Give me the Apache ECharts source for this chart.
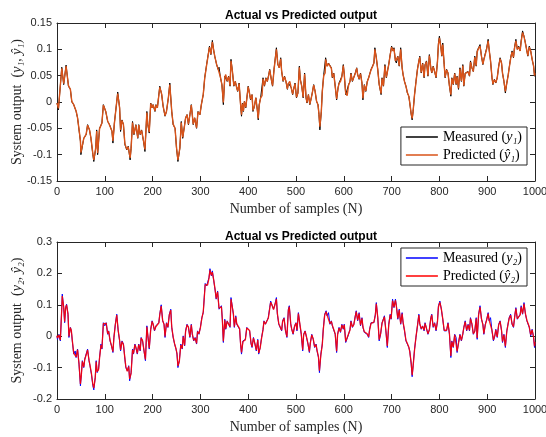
<!DOCTYPE html>
<html>
<head>
<meta charset="utf-8">
<script src="https://cdn.jsdelivr.net/npm/echarts@6/dist/echarts.min.js"></script>
<style>html,body{margin:0;padding:0;background:#fff}#c{width:546px;height:437px}</style>
</head>
<body>
<div id="c"></div>
<script>
// ---------- Top plot: y1 ----------
const samples1 = [0,3,10,14,19,24,28,31,35,40,43,49,50,56,61,64,68,71,75,77,81,83,85,89,94,97,99,102,106,110,115,117,120,125,127,131,133,136,139,142,146,149,153,155,158,161,165,169,171,174,177,181,184,188,190,193,196,199,201,205,207,210,215,219,222,226,229,233,236,240,243,247,250,253,257,260,263,265,269,272,275,278,281,285,288,292,295,299,302,306,309,313,316,319,322,325,328,
330,334,337,339,342,345,348,351,353,356,359,362,364,367,370,373,376,378,381,384,386,388,390,392,395,398,400,402,405,408,410,413,416,419,421,423,426,429,431,434,437,440,443,445,449,451,454,456,459,462,465,468,470,473,476,479,482,484,487,490,493,495,498,501,504,507,509,512,515,518,521,523,526,529,532,534,537,540,543,546,548,550,553,555,558,561,562,565,568,571,574,576,579,582,585,588,590,593,596,599,601,604,607,610,613,615,618,621,624,627,629,632,635,638,640,643,646,649,652,654,657,660,663,665,668,671,674,
676,678,680,683,686,689,692,694,697,700,703,705,708,710,713,716,719,722,724,727,730,733,736,738,741,743,745,748,751,754,757,759,762,765,768,770,773,776,779,782,784,787,790,793,796,798,800,803,805,807,810,812,815,818,821,824,826,829,832,835,837,840,843,846,849,851,854,857,860,863,865,868,871,874,877,879,882,885,888,891,893,896,899,902,904,907,910,912,915,918,921,924,927,930,932,935,938,941,944,946,949,952,955,957,960,963,966,969,971,974,977,980,983,985,988,991,994,997,999,1000];

const measured1 = [-0.002,-0.015,0.066,0.033,0.070,0.030,0.024,0,-0.005,-0.018,-0.030,-0.075,-0.100,-0.069,-0.062,-0.043,-0.053,-0.069,-0.100,-0.113,-0.088,-0.053,-0.100,-0.050,-0.040,-0.005,-0.004,-0.018,-0.037,-0.043,-0.056,-0.078,-0.040,0.001,0.019,-0.011,-0.056,-0.034,-0.043,-0.081,-0.091,-0.084,-0.110,-0.088,-0.037,-0.062,-0.043,-0.069,-0.043,-0.062,-0.053,-0.075,-0.094,-0.018,-0.043,-0.059,-0.002,-0.011,-0.005,-0.018,-0.005,-0.011,0.030,0.014,-0.008,-0.027,-0.018,0.008,0.036,-0.018,-0.043,-0.050,-0.088,-0.113,-0.088,-0.037,-0.069,-0.056,-0.030,-0.024,-0.043,-0.024,-0.005,-0.043,-0.030,-0.050,-0.018,-0.024,-0.005,0.014,0.046,0.071,0.068,0.106,0.090,0.117,0.097,
0.087,0.071,0.062,0.066,0.046,0.033,-0.005,0.049,0.052,0.039,0.049,0.030,0.081,0.058,0.030,0.039,0.027,0.020,0.036,-0.005,-0.027,-0.002,-0.018,0.001,-0.011,0.014,0.030,0.020,0.004,0.014,-0.018,-0.008,0.008,-0.015,-0.034,-0.005,0.008,0.011,0.046,0.030,0.046,0.039,0.052,0.062,0.039,0.030,0.062,0.078,0.103,0.071,0.065,0.084,0.058,0.039,0.049,0.039,0.024,0.036,0.039,0.027,0.014,0.024,0.036,0.008,0.017,0.068,0.043,0.030,0.008,0.055,0.008,-0.002,0.014,-0.005,0.008,0.017,0.033,0.020,0.001,-0.005,-0.024,-0.053,-0.018,0.020,0.052,0.055,0.084,0.068,0.074,0.071,0.065,0.046,0.055,0.030,0.004,0.027,0.036,0.039,0.049,0.071,0.052,0.014,0.011,0.033,0.039,0.055,0.039,0.039,0.055,0.065,0.052,0.043,0.055,0.036,0.004,0.033,0.020,0.039,0.046,0.049,0.062,0.068,0.074,0.103,0.084,0.062,0.033,
0.033,0.014,0.046,0.030,0.071,0.046,0.062,0.071,0.090,0.106,0.097,0.103,0.078,0.074,0.087,0.068,0.103,0.065,0.052,0.039,0.030,0.017,0.011,-0.002,-0.024,-0.034,-0.018,0.014,0.039,0.062,0.078,0.087,0.055,0.074,0.046,0.071,0.078,0.049,0.090,0.065,0.055,0.068,0.058,0.046,0.078,0.112,0.125,0.106,0.087,0.112,0.071,0.046,0.062,0.055,0.030,0.011,0.046,0.033,0.055,0.033,0.049,0.024,0.065,0.039,0.071,0.030,0.055,0.052,0.058,0.049,0.078,0.065,0.058,0.087,0.068,0.097,0.103,0.109,0.087,0.071,0.081,0.078,0.103,0.119,0.100,0.078,0.046,0.033,0.043,0.036,0.046,0.068,0.084,0.074,0.055,0.039,0.017,0.036,0.052,0.065,0.084,0.097,0.084,0.103,0.119,0.100,0.106,0.097,0.116,0.135,0.125,0.112,0.097,0.087,0.106,0.097,0.081,0.068,0.049,0.055];

const predicted1 = [-0.002,-0.012,0.064,0.035,0.068,0.031,0.024,0.001,-0.005,-0.017,-0.030,-0.073,-0.096,-0.069,-0.061,-0.044,-0.053,-0.068,-0.098,-0.110,-0.087,-0.055,-0.097,-0.051,-0.040,-0.006,-0.004,-0.018,-0.036,-0.044,-0.055,-0.074,-0.041,0.001,0.016,-0.011,-0.053,-0.035,-0.043,-0.079,-0.090,-0.085,-0.106,-0.088,-0.039,-0.061,-0.044,-0.068,-0.044,-0.061,-0.054,-0.074,-0.090,-0.020,-0.042,-0.057,-0.003,-0.011,-0.005,-0.017,-0.006,-0.011,0.028,0.015,-0.008,-0.026,-0.018,0.008,0.033,-0.017,-0.042,-0.050,-0.086,-0.110,-0.087,-0.039,-0.067,-0.056,-0.031,-0.024,-0.042,-0.025,-0.006,-0.042,-0.030,-0.049,-0.019,-0.024,-0.005,0.015,0.045,0.070,0.068,0.104,0.091,0.114,0.097,
0.087,0.071,0.063,0.065,0.047,0.033,-0.001,0.047,0.052,0.040,0.048,0.031,0.078,0.058,0.031,0.039,0.027,0.021,0.035,-0.004,-0.024,-0.003,-0.017,0.001,-0.010,0.014,0.029,0.020,0.005,0.014,-0.016,-0.008,0.008,-0.014,-0.031,-0.006,0.008,0.012,0.044,0.031,0.045,0.039,0.051,0.061,0.040,0.031,0.060,0.077,0.100,0.072,0.065,0.082,0.058,0.040,0.048,0.039,0.025,0.035,0.039,0.027,0.015,0.024,0.035,0.009,0.017,0.066,0.043,0.030,0.009,0.053,0.009,-0.001,0.014,-0.004,0.008,0.017,0.032,0.020,0.002,-0.005,-0.022,-0.047,-0.017,0.020,0.050,0.055,0.081,0.068,0.073,0.071,0.064,0.047,0.054,0.030,0.006,0.027,0.035,0.039,0.048,0.069,0.052,0.017,0.012,0.032,0.039,0.054,0.040,0.039,0.054,0.064,0.052,0.044,0.054,0.036,0.007,0.032,0.021,0.038,0.046,0.049,0.061,0.067,0.074,0.100,0.084,0.062,0.034,
0.033,0.016,0.045,0.031,0.069,0.047,0.061,0.071,0.089,0.104,0.097,0.101,0.078,0.075,0.086,0.069,0.100,0.065,0.052,0.039,0.030,0.018,0.011,-0.001,-0.022,-0.031,-0.017,0.014,0.038,0.061,0.077,0.085,0.056,0.073,0.047,0.070,0.077,0.050,0.088,0.065,0.056,0.067,0.058,0.047,0.077,0.109,0.122,0.105,0.088,0.109,0.071,0.047,0.061,0.055,0.031,0.014,0.045,0.034,0.054,0.034,0.048,0.026,0.063,0.040,0.069,0.031,0.054,0.052,0.057,0.050,0.076,0.065,0.058,0.085,0.069,0.095,0.102,0.106,0.087,0.072,0.080,0.078,0.101,0.116,0.100,0.078,0.047,0.034,0.042,0.037,0.046,0.067,0.082,0.074,0.055,0.040,0.020,0.036,0.051,0.065,0.082,0.095,0.085,0.101,0.116,0.100,0.104,0.097,0.114,0.132,0.124,0.111,0.097,0.088,0.104,0.097,0.081,0.069,0.050,0.055];

// ---------- Bottom plot: y2 ----------
const samples2 = [0,1,4,7,10,11,14,16,18,20,23,25,28,30,32,35,38,40,43,46,49,51,53,56,58,61,64,67,69,72,75,77,80,82,84,87,89,92,94,97,100,103,106,108,111,114,117,119,122,125,128,131,133,136,139,142,144,147,150,152,155,158,160,163,165,168,171,174,176,179,182,185,188,190,193,196,199,201,204,207,210,213,215,218,221,224,226,229,232,235,238,240,243,246,249,251,253,256,259,262,264,267,269,272,275,278,281,283,286,289,292,294,297,300,303,306,308,310,313,315,318,320,323,325,328,331,333,336,339,
344,346,348,351,353,356,359,362,364,367,369,371,374,376,379,382,384,386,389,392,394,397,400,403,406,408,411,414,417,420,422,425,428,431,433,436,439,442,445,447,450,453,456,459,461,464,467,470,472,475,478,481,484,486,489,491,494,497,500,502,505,508,511,514,516,519,522,525,528,530,533,536,539,542,544,547,549,552,555,557,560,563,565,568,571,574,576,579,582,585,587,590,593,596,599,601,604,607,610,613,615,618,621,624,626,629,632,635,638,640,643,646,649,652,654,657,660,663,666,668,671,674,
677,680,683,685,688,691,694,697,699,702,705,708,710,713,716,719,722,724,727,730,733,736,738,741,743,745,748,751,754,757,759,762,765,768,770,773,776,779,782,784,787,790,793,796,798,801,804,807,810,812,815,818,821,824,826,829,832,835,837,840,843,846,849,851,854,857,860,863,865,868,871,874,877,879,882,885,888,891,893,896,899,902,904,907,910,913,916,918,921,924,927,930,932,935,938,941,944,946,949,952,955,958,960,963,966,969,971,974,977,980,983,986,988,991,994,997,999,1000];

const measured2 = [0,-0.010,0.006,-0.015,0.091,0.134,0.091,0.043,0.091,0.102,0.070,-0.004,0.028,0.017,-0.015,-0.057,-0.047,-0.068,-0.041,-0.089,-0.158,-0.121,-0.078,-0.100,-0.073,-0.078,-0.041,-0.078,-0.094,-0.121,-0.158,-0.171,-0.131,-0.078,-0.116,-0.105,-0.068,-0.025,-0.041,0.043,0.033,0.043,0.006,0.017,-0.015,-0.031,-0.052,-0.004,0.038,0.070,0.017,-0.015,-0.047,-0.015,-0.025,-0.073,-0.100,-0.110,-0.094,-0.142,-0.116,-0.041,-0.057,-0.025,-0.036,-0.057,-0.025,-0.047,-0.004,-0.015,-0.047,-0.078,0.033,0.001,-0.041,0.022,0.049,0.038,0.017,0.033,0.028,0.043,0.070,0.100,0.049,0.038,-0.004,0.043,0.028,0.070,0.086,0.028,-0.004,-0.025,-0.041,-0.057,-0.100,-0.078,-0.025,-0.041,0.001,-0.031,0.017,0.038,0.028,-0.004,0.038,0.006,-0.015,-0.004,-0.025,0.017,0.006,0.028,0.059,0.075,0.123,0.168,0.160,0.165,0.187,0.215,0.192,0.208,0.176,0.144,0.118,0.144,0.086,
0.097,0.049,-0.020,0.054,0.022,0.049,0.038,0.028,0.123,0.128,0.070,0.028,0.065,0.038,0.043,0.022,-0.025,-0.057,-0.015,-0.020,-0.010,0.028,0.033,0.017,-0.025,-0.036,-0.004,-0.025,-0.047,-0.010,-0.057,-0.036,-0.004,0.022,0.049,0.038,0.038,0.059,0.091,0.112,0.097,0.086,0.102,0.123,0.070,0.038,0.043,0.017,0.049,0.059,0.017,-0.004,0.086,0.097,0.038,0.022,0.006,0.033,0.043,0.017,0.075,0.038,0.006,-0.047,0.006,0.017,-0.004,-0.025,-0.052,-0.020,0.006,-0.010,-0.036,-0.025,-0.047,-0.068,-0.116,-0.057,-0.025,0.022,0.070,0.081,0.065,0.075,0.038,0.049,0.033,0.038,0.006,-0.052,0.006,0.028,0.012,0.038,0.022,0.038,-0.020,-0.015,0.006,0.022,0.049,0.028,0.038,0.065,0.081,0.049,0.075,0.033,0.059,0.028,0.012,0.017,0.006,-0.004,0.022,0.043,0.049,0.043,0.070,0.107,0.059,-0.015,
0.006,0.043,0.049,0.065,0.017,-0.036,0.038,0.070,0.054,0.118,0.091,0.118,0.097,0.054,0.086,0.038,0.075,0.043,0.017,-0.015,-0.025,-0.036,-0.047,-0.089,-0.129,-0.094,-0.041,-0.004,0.033,0.070,0.038,0.022,0.033,0.017,0.043,0.043,0.006,0.022,0.059,0.070,0.028,0.043,0.017,0.049,0.097,0.112,0.086,0.054,0.017,0.022,0.017,0.043,0.006,-0.068,-0.015,-0.036,0.006,-0.004,-0.052,-0.020,0.006,-0.015,0.006,0.028,0.049,0.017,0.038,0.017,0.059,0.038,0.006,0.017,0.059,-0.010,0.070,0.097,0.054,0.038,0.006,0.038,0.054,0.075,0.049,0.059,0.017,-0.015,0.001,0.022,-0.004,0.038,0.049,0.017,-0.020,0.006,-0.036,0.017,0.043,0.059,0.070,0.038,0.028,0.070,0.091,0.054,0.049,0.070,0.097,0.070,0.107,0.070,0.049,0.049,0.028,0.001,0.022,-0.004,-0.036,-0.020];

const predicted2 = [0.002,-0.006,0.004,-0.012,0.088,0.128,0.093,0.046,0.089,0.100,0.071,-0.001,0.027,0.018,-0.013,-0.054,-0.048,-0.066,-0.043,-0.086,-0.152,-0.123,-0.080,-0.098,-0.075,-0.077,-0.044,-0.077,-0.092,-0.118,-0.153,-0.165,-0.133,-0.081,-0.113,-0.106,-0.070,-0.028,-0.039,0.040,0.035,0.041,0.008,0.016,-0.013,-0.030,-0.049,-0.006,0.036,0.067,0.019,-0.013,-0.044,-0.017,-0.027,-0.070,-0.097,-0.112,-0.096,-0.136,-0.118,-0.044,-0.055,-0.027,-0.035,-0.055,-0.027,-0.045,-0.006,-0.014,-0.045,-0.074,0.030,0.003,-0.038,0.020,0.047,0.039,0.019,0.031,0.029,0.042,0.068,0.096,0.051,0.037,-0.001,0.041,0.029,0.068,0.083,0.030,-0.002,-0.024,-0.040,-0.055,-0.095,-0.079,-0.028,-0.039,-0.001,-0.029,0.015,0.036,0.029,-0.002,0.036,0.008,-0.013,-0.006,-0.023,0.015,0.008,0.027,0.057,0.078,0.120,0.164,0.162,0.163,0.185,0.210,0.194,0.204,0.178,0.146,0.120,0.141,0.089,
0.094,0.051,-0.016,0.051,0.024,0.047,0.039,0.030,0.118,0.124,0.072,0.030,0.062,0.040,0.042,0.024,-0.022,-0.052,-0.017,-0.018,-0.012,0.026,0.032,0.018,-0.022,-0.034,-0.006,-0.023,-0.044,-0.012,-0.053,-0.038,-0.006,0.020,0.047,0.039,0.037,0.057,0.088,0.108,0.099,0.085,0.100,0.118,0.073,0.040,0.041,0.019,0.047,0.057,0.019,-0.002,0.082,0.094,0.040,0.023,0.008,0.031,0.042,0.019,0.072,0.040,0.008,-0.043,0.004,0.016,-0.002,-0.023,-0.049,-0.022,0.004,-0.008,-0.034,-0.027,-0.045,-0.065,-0.110,-0.060,-0.027,0.019,0.067,0.078,0.067,0.073,0.040,0.047,0.035,0.036,0.008,-0.048,0.004,0.026,0.014,0.036,0.024,0.036,-0.017,-0.016,0.008,0.020,0.047,0.030,0.037,0.062,0.078,0.051,0.072,0.035,0.057,0.030,0.014,0.016,0.008,-0.002,0.020,0.041,0.047,0.045,0.067,0.103,0.061,-0.011,
0.008,0.041,0.047,0.062,0.019,-0.031,0.035,0.067,0.056,0.113,0.093,0.114,0.095,0.057,0.083,0.040,0.072,0.045,0.019,-0.013,-0.023,-0.034,-0.049,-0.085,-0.124,-0.096,-0.044,-0.002,0.031,0.067,0.040,0.024,0.031,0.019,0.041,0.044,0.008,0.020,0.056,0.068,0.030,0.041,0.019,0.047,0.093,0.108,0.088,0.056,0.019,0.020,0.019,0.041,0.008,-0.063,-0.017,-0.034,0.004,-0.002,-0.048,-0.022,0.004,-0.013,0.008,0.026,0.046,0.019,0.036,0.019,0.056,0.040,0.008,0.015,0.056,-0.006,0.067,0.093,0.056,0.036,0.008,0.036,0.052,0.072,0.051,0.057,0.019,-0.012,0.003,0.020,-0.002,0.036,0.047,0.019,-0.017,0.004,-0.032,0.015,0.041,0.057,0.067,0.040,0.030,0.067,0.088,0.056,0.051,0.068,0.093,0.072,0.103,0.072,0.051,0.047,0.030,0.004,0.020,-0.002,-0.032,-0.018];

const xTicks = {min: 0, max: 1000, interval: 100};
const y1Ticks = {min: -0.15, max: 0.15, interval: 0.05};
const y2Ticks = {min: -0.2, max: 0.3, interval: 0.1};
const titleText = 'Actual vs Predicted output';
const xName = 'Number of samples (N)';

const toPairs = (xs, ys) => xs.map((x, i) => [x, ys[i]]);

const axisColor = '#262626';
const serif = "'Liberation Serif','DejaVu Serif',serif";
const sans = "'Liberation Sans',Arial,sans-serif";
const fmt = v => String(Math.round(v * 1000) / 1000);

function xAx(grid, pos, showLabel, showName) {
  return {
    type: 'value', gridIndex: grid, position: pos, ...xTicks,
    axisLine: {show: true, onZero: false, lineStyle: {color: axisColor, width: 1}},
    axisTick: {show: true, inside: true, length: 5, lineStyle: {color: axisColor}},
    axisLabel: {show: showLabel, color: axisColor, fontFamily: sans, fontSize: 11, margin: 5, formatter: fmt},
    splitLine: {show: false},
    name: showName ? xName : '', nameLocation: 'middle', nameGap: 21, nameMoveOverlap: false,
    nameTextStyle: {fontFamily: serif, fontSize: 14, color: axisColor}
  };
}
function yAx(grid, pos, ticks, showLabel, name) {
  return {
    type: 'value', gridIndex: grid, position: pos, ...ticks,
    axisLine: {show: true, onZero: false, lineStyle: {color: axisColor, width: 1}},
    axisTick: {show: true, inside: true, length: 5, lineStyle: {color: axisColor}},
    axisLabel: {show: showLabel, color: axisColor, fontFamily: sans, fontSize: 11, margin: 5, formatter: fmt},
    splitLine: {show: false},
    name: name || '', nameLocation: 'middle', nameGap: 33, nameMoveOverlap: false,
    nameTextStyle: {fontFamily: serif, fontSize: 14, color: axisColor,
      rich: {i: {fontFamily: serif, fontSize: 14, fontStyle: 'italic', color: axisColor}}}
  };
}

const legendRich = {i: {fontFamily: serif, fontSize: 14, fontStyle: 'italic', color: '#000'}};
const legendNames = {
  m1: 'Measured ({i|y₁})', p1: 'Predicted ({i|ŷ₁})',
  m2: 'Measured ({i|y₂})', p2: 'Predicted ({i|ŷ₂})'
};
function legend(names, top) {
  return {
    data: names, orient: 'vertical', right: 19, top: top,
    backgroundColor: '#fff', borderColor: axisColor, borderWidth: 1,
    padding: [2, 5, 2, 5], itemGap: 2, itemWidth: 32, itemHeight: 1.5,
    icon: 'rect',
    textStyle: {fontFamily: serif, fontSize: 14, lineHeight: 16, color: '#000', rich: legendRich},
    formatter: n => legendNames[n]
  };
}

const chart = echarts.init(document.getElementById('c'), null, {renderer: 'canvas'});
chart.setOption({
  animation: false,
  backgroundColor: '#fff',
  title: [
    {text: titleText, left: 296, top: 5, textAlign: 'center',
     textStyle: {fontFamily: sans, fontSize: 12, fontWeight: 'bold', color: '#000'}},
    {text: titleText, left: 296, top: 226, textAlign: 'center',
     textStyle: {fontFamily: sans, fontSize: 12, fontWeight: 'bold', color: '#000'}}
  ],
  grid: [
    {left: 57, right: 11, top: 23, height: 158, outerBoundsMode: 'none', containLabel: false},
    {left: 57, right: 11, top: 242, height: 157, outerBoundsMode: 'none', containLabel: false}
  ],
  xAxis: [xAx(0, 'bottom', true, true), xAx(0, 'top', false, false),
          xAx(1, 'bottom', true, true), xAx(1, 'top', false, false)],
  yAxis: [yAx(0, 'left', y1Ticks, true, 'System output  ({i|y₁}, {i|ŷ₁})'), yAx(0, 'right', y1Ticks, false),
          yAx(1, 'left', y2Ticks, true, 'System output  ({i|y₂}, {i|ŷ₂})'), yAx(1, 'right', y2Ticks, false)],
  legend: [legend(['m1', 'p1'], 127), legend(['m2', 'p2'], 248)],
  series: [
    {name: 'm1', type: 'line', xAxisIndex: 0, yAxisIndex: 0, data: toPairs(samples1, measured1),
     symbol: 'none', lineStyle: {color: '#000', width: 1}, itemStyle: {color: '#000'}},
    {name: 'p1', type: 'line', xAxisIndex: 0, yAxisIndex: 0, data: toPairs(samples1, predicted1),
     symbol: 'none', lineStyle: {color: '#D95319', width: 1.4}, itemStyle: {color: '#D95319'}},
    {name: 'm2', type: 'line', xAxisIndex: 2, yAxisIndex: 2, data: toPairs(samples2, measured2),
     symbol: 'none', lineStyle: {color: '#0000FF', width: 1}, itemStyle: {color: '#0000FF'}},
    {name: 'p2', type: 'line', xAxisIndex: 2, yAxisIndex: 2, data: toPairs(samples2, predicted2),
     symbol: 'none', lineStyle: {color: '#FF0000', width: 1.3, opacity: 0.9}, itemStyle: {color: '#FF0000'}}
  ]
});
</script>
</body>
</html>
